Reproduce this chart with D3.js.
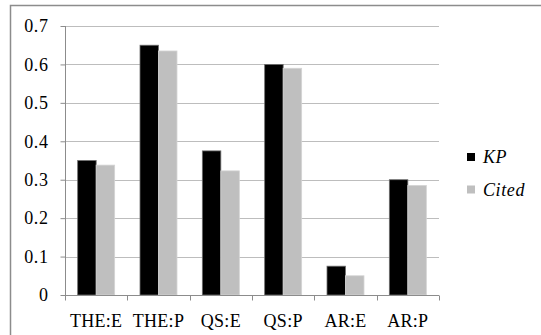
<!DOCTYPE html>
<html>
<head>
<meta charset="utf-8">
<script src="https://cdn.jsdelivr.net/npm/d3@7"></script>
<style>
  html, body { margin: 0; padding: 0; background: #fff; }
  svg { display: block; }
  text { font-family: "Liberation Serif", "DejaVu Serif", serif; fill: #000; }
</style>
</head>
<body>
<svg id="chart" width="541" height="335"></svg>
<script>
// Categories and series
const categories = ["THE:E", "THE:P", "QS:E", "QS:P", "AR:E", "AR:P"];
const seriesNames = ["KP", "Cited"];
const kpValues = [0.35, 0.65, 0.375, 0.60, 0.075, 0.30];
const citedValues = [0.338, 0.635, 0.323, 0.59, 0.05, 0.285];
const yTicks = [0, 0.1, 0.2, 0.3, 0.4, 0.5, 0.6, 0.7];
const colors = ["#000000", "#bfbfbf"];
const serifFont = '"Liberation Serif", "DejaVu Serif", serif';

const svg = d3.select("#chart");

// Outer chart frame (left and top edges visible)
svg.append("path")
  .attr("d", "M10.5,335 L10.5,5.5 L541,5.5")
  .attr("fill", "none")
  .attr("stroke", "#8c8c8c")
  .attr("stroke-width", 1.5);

const plotLeft = 65, plotRight = 439, plotTop = 26, plotBottom = 295;

const x0 = d3.scaleBand().domain(categories).range([plotLeft, plotRight]).padding(0);
const x1 = d3.scaleBand().domain(seriesNames).range([0, x0.bandwidth()])
  .paddingInner(0).paddingOuter(0.685);
const y = d3.scaleLinear().domain([0, 0.7]).range([plotBottom, plotTop]);

// Horizontal gridlines
svg.append("g")
  .selectAll("line")
  .data(yTicks.filter(d => d > 0))
  .join("line")
  .attr("x1", plotLeft).attr("x2", plotRight)
  .attr("y1", d => Math.round(y(d)) + 0.5).attr("y2", d => Math.round(y(d)) + 0.5)
  .attr("stroke", "#bdbdbd").attr("stroke-width", 1);

// Bars
const rows = categories.map((c, i) => ({ cat: c, vals: [kpValues[i], citedValues[i]] }));
const groups = svg.append("g").selectAll("g")
  .data(rows).join("g")
  .attr("transform", d => `translate(${x0(d.cat)},0)`);
groups.selectAll("rect")
  .data(d => d.vals.map((v, j) => ({ key: seriesNames[j], v, j })))
  .join("rect")
  .attr("x", d => x1(d.key))
  .attr("y", d => y(d.v))
  .attr("width", x1.bandwidth())
  .attr("height", d => plotBottom - y(d.v))
  .attr("fill", d => colors[d.j])
  .attr("stroke", d => d.j === 0 ? "#6e6e6e" : "#d4d4d4")
  .attr("stroke-width", 0.8);

// Y axis
const yAxis = d3.axisLeft(y).tickValues(yTicks).tickSize(5).tickPadding(12)
  .tickFormat(d => d === 0 ? "0" : d3.format(".1f")(d));
const gy = svg.append("g").attr("transform", `translate(${plotLeft + 0.5},0)`).call(yAxis);
gy.attr("font-family", serifFont);
gy.select(".domain").attr("stroke", "#8c8c8c").attr("d", `M0,${plotBottom + 0.5}V${plotTop}`);
gy.selectAll(".tick line").attr("stroke", "#8c8c8c");
gy.selectAll("text").attr("font-size", 18).attr("font-family", serifFont)
  .attr("letter-spacing", 0.6).attr("fill", "#000");

// X axis with ticks at category boundaries
const gx = svg.append("g").attr("transform", `translate(0,${plotBottom + 0.5})`);
gx.append("line").attr("x1", plotLeft).attr("x2", plotRight)
  .attr("stroke", "#8c8c8c");
const bounds = categories.map(c => x0(c)).concat([plotRight]);
gx.selectAll("line.tick").data(bounds).join("line").attr("class", "tick")
  .attr("x1", d => Math.round(d) + 0.5).attr("x2", d => Math.round(d) + 0.5)
  .attr("y1", 0).attr("y2", 5).attr("stroke", "#8c8c8c");
gx.selectAll("text").data(categories).join("text")
  .attr("x", d => x0(d) + x0.bandwidth() / 2)
  .attr("y", 31)
  .attr("text-anchor", "middle")
  .attr("font-size", 18)
  .attr("letter-spacing", 0.3)
  .attr("font-family", serifFont)
  .text(d => d);

// Legend
const legend = svg.append("g");
const legendY = [157.5, 190];
seriesNames.forEach((name, i) => {
  legend.append("rect")
    .attr("x", 467).attr("y", legendY[i] - 4.5)
    .attr("width", 8).attr("height", 8)
    .attr("fill", colors[i]);
  legend.append("text")
    .attr("x", 483).attr("y", legendY[i] + 5.5)
    .attr("font-size", 18)
    .attr("font-style", "italic")
    .attr("letter-spacing", 0.6)
    .attr("font-family", serifFont)
    .text(name);
});
</script>
</body>
</html>
